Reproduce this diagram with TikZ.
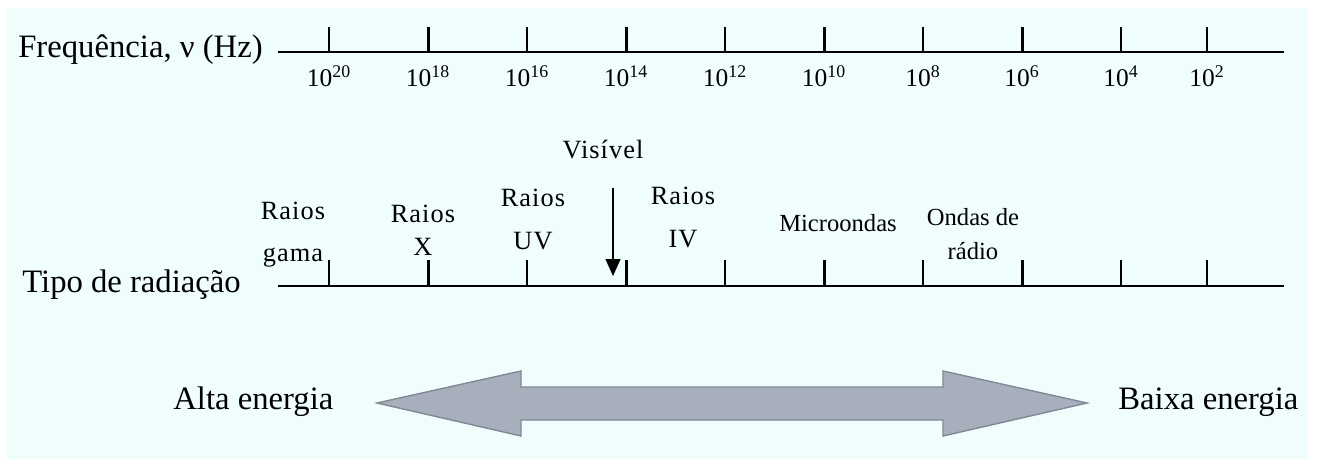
\documentclass[tikz,border=0pt]{standalone}
\usepackage{fontspec}
\setmainfont{Liberation Serif}
\newfontfamily\bandfont[LetterSpace=4]{Liberation Serif}
\usetikzlibrary{arrows.meta}
\definecolor{bgcyan}{RGB}{240,253,253}
\definecolor{bandfill}{RGB}{167,175,189}
\definecolor{banddraw}{RGB}{128,136,150}
\tikzset{
  axis/.style={line width=1.5pt},
  minortick/.style={line width=0.75pt},
  majortick/.style={line width=1.7pt},
  title/.style={font=\fontsize{18.6}{22}\selectfont, inner sep=0pt},
  power/.style={font=\fontsize{14.5}{17}\selectfont, inner sep=0pt, anchor=base},
  band/.style={font=\fontsize{15}{#1}\bandfont, align=center, inner sep=0pt},
  band/.default=20,
  wave/.style={font=\fontsize{14}{#1}\selectfont, align=center, inner sep=0pt},
  wave/.default=20,
  pointer/.style={-{Triangle[length=0.34cm, width=0.3cm]}, line width=0.6pt},
  energy/.style={fill=bandfill, draw=banddraw, line width=0.8pt},
}

\begin{document}
\begin{tikzpicture}[x=0.02cm, y=-0.02cm]
    \useasboundingbox (0,0) rectangle (1317,459);
    \fill[white] (0,0) rectangle (1317,459);
    \fill[bgcyan] (7,8) rectangle (1308,459);

    \node[title, anchor=base east] (freq) at (263,58) {Frequência, ν (Hz)};
    \node[title, anchor=base west] (tipo) at (22,292) {Tipo de radiação};
    \node[title, anchor=base west] (alta) at (173,409) {Alta energia};
    \node[title, anchor=base west] (baixa) at (1118,409) {Baixa energia};

    \foreach \y/\h in {52/27, 286/260} {
      \draw[axis] (278,\y) -- (1284,\y);
      \foreach \x in {329,527,725,923,1121,1207}
        \draw[minortick] (\x,\y) -- (\x,\h);
      \foreach \x in {428,626,824,1022}
        \draw[majortick] (\x,\y) -- (\x,\h);
    }
    \foreach \x/\e in {329/20,428/18,527/16,626/14,725/12,824/10,923/8,1022/6,1121/4,1207/2}
      \node[power] (nu\e) at (\x,87) {10\textsuperscript{\e}};

    \node[band=23.9] (gama) at (293,234.9) {Raios\\gama};
    \node[band=18.7] (xray) at (423,230.5) {Raios\\X};
    \node[band=24.5] (uv) at (533,219.5) {Raios\\UV};
    \node[band, anchor=base] (vis) at (603,159) {Visível};
    \node[band=24.5] (ir) at (683,217.5) {Raios\\IV};
    \node[wave, anchor=base] (micro) at (838,231) {Microondas};
    \node[wave=19.8] (radio) at (973,234) {Ondas de\\rádio};

    \coordinate (vistip) at (613,276);
    \draw[pointer] ([yshift=-0.56cm]vis.south -| vistip) -- (vistip);

    \coordinate (ltip) at (377,403);
    \coordinate (rtip) at (1087,403);
    \draw[energy] (ltip) -- (521,371) -- (521,387) -- (943,387) -- (943,371)
      -- (rtip) -- (943,436) -- (943,420) -- (521,420) -- (521,436) -- cycle;
  \end{tikzpicture}
\end{document}
